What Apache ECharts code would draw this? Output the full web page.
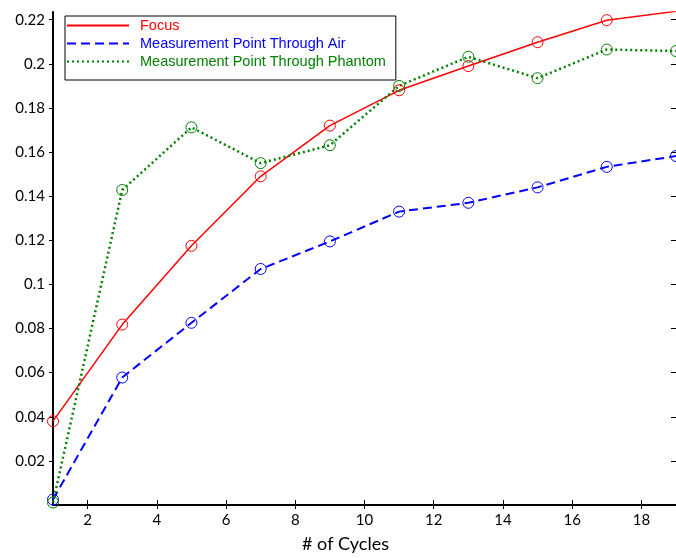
<!DOCTYPE html>
<html>
<head>
<meta charset="utf-8">
<script src="https://cdn.jsdelivr.net/npm/echarts@6/dist/echarts.min.js"></script>
<style>
  html, body { margin: 0; padding: 0; background: #fff; }
  #chart { width: 676px; height: 558px; }
</style>
</head>
<body>
<div id="chart"></div>
<script>
// cycle numbers on x axis
const cycles = [1, 3, 5, 7, 9, 11, 13, 15, 17, 19];
const focus = [0.0380, 0.0818, 0.1175, 0.1490, 0.1720, 0.1880, 0.1990, 0.2098, 0.2198, 0.2238];
const throughAir = [0.0025, 0.0578, 0.0826, 0.1070, 0.1195, 0.1330, 0.1370, 0.1440, 0.1533, 0.1582];
const throughPhantom = [0.0011, 0.1428, 0.1712, 0.1550, 0.1631, 0.1900, 0.2032, 0.1935, 0.2065, 0.2058];
const xTicks = [2, 4, 6, 8, 10, 12, 14, 16, 18];
const yTicks = [0.02, 0.04, 0.06, 0.08, 0.1, 0.12, 0.14, 0.16, 0.18, 0.2, 0.22];

const chart = echarts.init(document.getElementById('chart'), null, { renderer: 'canvas' });

const tickFont = { fontFamily: 'Lato', fontSize: 15, color: '#000' };
const pair = arr => cycles.map((c, i) => [c, arr[i]]);

function lineSeries(name, data, color, width, type) {
    return {
        name: name,
        type: 'line',
        data: pair(data),
        symbol: 'circle',
        symbolSize: 11,
        showSymbol: true,
        lineStyle: { color: color, width: width, type: type },
        itemStyle: { color: 'rgba(0,0,0,0)', borderColor: color, borderWidth: 1 },
        emphasis: { disabled: true },
        animation: false
    };
}

chart.setOption({
    animation: false,
    grid: { left: 53, top: 12, width: 627, bottom: 51 },
    legend: {
        left: 65, top: 16,
        orient: 'vertical',
        backgroundColor: '#fff',
        borderColor: '#000', borderWidth: 1,
        padding: [2, 10, 11, 1],
        itemWidth: 62, itemHeight: 10, itemGap: 3,
        itemStyle: { opacity: 0 },
        textStyle: { fontFamily: 'Liberation Sans', fontSize: 14.5, padding: [0, 0, 0, 6] },
        data: [
            { name: 'Focus', textStyle: { color: '#ff0000' } },
            { name: 'Measurement Point Through Air', textStyle: { color: '#0000ff' } },
            { name: 'Measurement Point Through Phantom', textStyle: { color: '#008000' } }
        ]
    },
    xAxis: [{
        type: 'value', min: 1, max: 19,
        position: 'bottom',
        name: '# of Cycles', nameLocation: 'middle', nameGap: 30,
        nameTextStyle: { fontFamily: 'Lato', fontSize: 18, color: '#000', padding: [0, 38, 0, 0] },
        axisLine: { lineStyle: { color: '#000', width: 2 } },
        axisTick: { inside: true, length: 5, customValues: xTicks, lineStyle: { color: '#000' } },
        axisLabel: Object.assign({ margin: 8, customValues: xTicks }, tickFont),
        splitLine: { show: false }
    }, {
        type: 'value', min: 1, max: 19,
        position: 'top',
        axisLine: { lineStyle: { color: '#000', width: 1 } },
        axisTick: { inside: true, length: 4, customValues: xTicks, lineStyle: { color: '#000' } },
        axisLabel: { show: false },
        splitLine: { show: false }
    }],
    yAxis: [{
        type: 'value', min: 0, max: 0.2235,
        position: 'left',
        axisLine: { lineStyle: { color: '#000', width: 2 } },
        axisTick: { inside: false, length: 4, customValues: yTicks, lineStyle: { color: '#000' } },
        axisLabel: Object.assign({
            margin: 8, customValues: yTicks,
            formatter: v => String(+(+v).toFixed(2))
        }, tickFont),
        splitLine: { show: false }
    }, {
        type: 'value', min: 0, max: 0.2235,
        position: 'right',
        axisLine: { lineStyle: { color: '#000', width: 1 } },
        axisTick: { inside: true, length: 5, customValues: yTicks, lineStyle: { color: '#000' } },
        axisLabel: { show: false },
        splitLine: { show: false }
    }],
    series: [
        lineSeries('Focus', focus, '#ff0000', 1.5, 'solid'),
        lineSeries('Measurement Point Through Air', throughAir, '#0000ff', 2, [9, 5]),
        lineSeries('Measurement Point Through Phantom', throughPhantom, '#008000', 2.5, [2, 3])
    ]
});
</script>
</body>
</html>
